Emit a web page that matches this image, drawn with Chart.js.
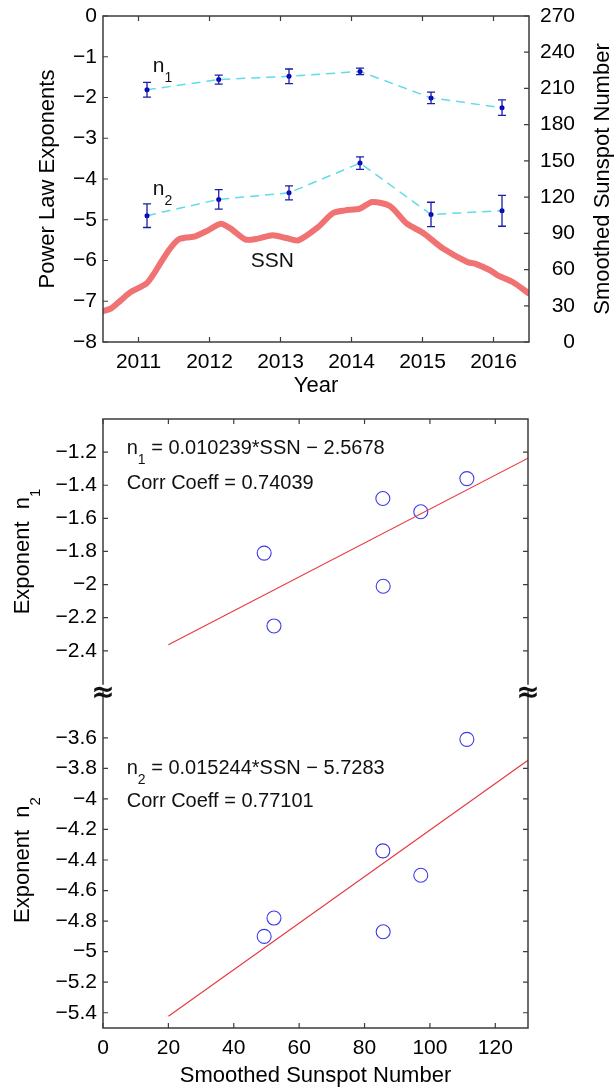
<!DOCTYPE html>
<html>
<head>
<meta charset="utf-8">
<title>Power law exponents and smoothed sunspot number</title>
<script src="https://cdn.jsdelivr.net/npm/chart.js@4.4.1/dist/chart.umd.min.js"></script>
<style>
  html, body { margin: 0; padding: 0; background: #fff; overflow: hidden; }
  canvas { position: absolute; left: 0; }
  #topChart { top: 0; }
  #n1Chart { top: 400px; }
  #n2Chart { top: 680px; }
</style>
</head>
<body>
<canvas id="topChart" width="614" height="400"></canvas>
<canvas id="n1Chart" width="614" height="292"></canvas>
<canvas id="n2Chart" width="614" height="409"></canvas>
<script>
// values
const fitYears = [2011.12, 2012.13, 2013.12, 2014.12, 2015.12, 2016.12];
const n1 = [-1.81, -1.56, -1.48, -1.36, -2.01, -2.25];
const n1Err = [0.18, 0.11, 0.18, 0.08, 0.14, 0.19];
const n2 = [-4.90, -4.50, -4.34, -3.61, -4.87, -4.78];
const n2Err = [0.29, 0.24, 0.17, 0.155, 0.30, 0.38];
const ssnAtFit = [49.3, 97.2, 85.6, 111.3, 85.7, 52.3];

// smoothed sunspot number curve
const ssnYears = [2010.50, 2010.61, 2010.75, 2010.89, 2011.11, 2011.21, 2011.32, 2011.44,
  2011.56, 2011.67, 2011.80, 2011.98, 2012.16, 2012.30, 2012.51, 2012.68, 2012.89,
  2013.08, 2013.25, 2013.53, 2013.74, 2013.91, 2014.12, 2014.29, 2014.54, 2014.78,
  2015.01, 2015.29, 2015.63, 2015.74, 2015.95, 2016.06, 2016.27, 2016.50];
const ssnValues = [25.6, 27.6, 34.5, 41.4, 48.3, 56.0, 66.3, 77.0,
  84.8, 86.5, 87.5, 92.5, 98.0, 93.9, 84.8, 85.6, 88.4,
  86.1, 84.2, 95.2, 106.8, 109.0, 110.5, 116.0, 112.6, 98.0,
  90.3, 77.4, 66.3, 64.9, 59.4, 55.2, 49.7, 40.1];

// linear fits (end points)
const fitLineX = [20, 130];
const fitLineN1 = [-2.363, -1.237];
const fitLineN2 = [-5.423, -3.747];

// tick labels
const yearTicks = [2011, 2012, 2013, 2014, 2015, 2016];
const exponentTicks = [-8, -7, -6, -5, -4, -3, -2, -1, 0];
const ssnTicks = [0, 30, 60, 90, 120, 150, 180, 210, 240, 270];
const ssnAxisTicks = [0, 20, 40, 60, 80, 100, 120];
const n1Ticks = [-2.4, -2.2, -2, -1.8, -1.6, -1.4, -1.2];
const n2Ticks = [-5.4, -5.2, -5, -4.8, -4.6, -4.4, -4.2, -4, -3.8, -3.6];

const FONT = '"Liberation Sans", Arial, sans-serif';
const AXIS = "#3c3c3c";
const TICK = 5;

const fmt = v => String(Math.round(v * 10) / 10).replace("-", "\u2212");
const setTicks = arr => scale => { scale.ticks = arr.map(v => ({ value: v })); };

function textRun(ctx, x, y, parts, size) {
    let cx = x;
    ctx.textBaseline = "alphabetic";
    ctx.textAlign = "left";
    parts.forEach(p => {
        const fs = p.sub ? Math.round(size * 0.68) : size;
        ctx.font = fs + "px " + FONT;
        ctx.fillText(p.t, cx, p.sub ? y + size * 0.48 : y);
        cx += ctx.measureText(p.t).width;
    });
}
function runWidth(ctx, parts, size) {
    let w = 0;
    parts.forEach(p => {
        ctx.font = (p.sub ? Math.round(size * 0.68) : size) + "px " + FONT;
        w += ctx.measureText(p.t).width;
    });
    return w;
}
function sideTitle(ctx, parts, size, baseX, centerY) {
    ctx.save();
    ctx.fillStyle = "#000";
    ctx.translate(baseX, centerY);
    ctx.rotate(-Math.PI / 2);
    textRun(ctx, -runWidth(ctx, parts, size) / 2, 0, parts, size);
    ctx.restore();
}

// box lines plus inward tick marks
function framePlugin(sides, tickSpecs) {
    return {
        id: "frame",
        afterDraw(chart) {
            const { ctx, chartArea: a, scales } = chart;
            ctx.save();
            ctx.strokeStyle = AXIS;
            ctx.lineWidth = 1.5;
            ctx.lineCap = "square";
            ctx.beginPath();
            if (sides.includes("left")) { ctx.moveTo(a.left, a.top); ctx.lineTo(a.left, a.bottom); }
            if (sides.includes("right")) { ctx.moveTo(a.right, a.top); ctx.lineTo(a.right, a.bottom); }
            if (sides.includes("top")) { ctx.moveTo(a.left, a.top); ctx.lineTo(a.right, a.top); }
            if (sides.includes("bottom")) { ctx.moveTo(a.left, a.bottom); ctx.lineTo(a.right, a.bottom); }
            ctx.stroke();
            ctx.lineCap = "butt";
            ctx.lineWidth = 1.2;
            ctx.beginPath();
            tickSpecs.forEach(([id, values, side]) => {
                const s = scales[id];
                values.forEach(v => {
                    const p = s.getPixelForValue(v);
                    if (side === "left") { ctx.moveTo(a.left, p); ctx.lineTo(a.left + TICK, p); }
                    if (side === "right") { ctx.moveTo(a.right, p); ctx.lineTo(a.right - TICK, p); }
                    if (side === "top") { ctx.moveTo(p, a.top); ctx.lineTo(p, a.top + TICK); }
                    if (side === "bottom") { ctx.moveTo(p, a.bottom); ctx.lineTo(p, a.bottom - TICK); }
                });
            });
            ctx.stroke();
            ctx.restore();
        }
    };
}

// text placed in data coordinates
function labelPlugin(items, size) {
    return {
        id: "labels",
        afterDatasetsDraw(chart) {
            const { ctx, scales } = chart;
            ctx.save();
            ctx.fillStyle = "#111";
            items.forEach(it => {
                const x = scales.x.getPixelForValue(it.x);
                const y = scales[it.axis || "y"].getPixelForValue(it.y);
                textRun(ctx, x, y, it.parts, size);
            });
            ctx.restore();
        }
    };
}

const errorBarPlugin = {
    id: "errorBars",
    afterDatasetsDraw(chart) {
        const { ctx, scales: { x, y } } = chart;
        ctx.save();
        ctx.strokeStyle = "#1c1ca8";
        ctx.lineWidth = 1.3;
        [[n1, n1Err], [n2, n2Err]].forEach(([vals, errs]) => {
            vals.forEach((v, i) => {
                const px = x.getPixelForValue(fitYears[i]);
                const top = y.getPixelForValue(v + errs[i]);
                const bot = y.getPixelForValue(v - errs[i]);
                ctx.beginPath();
                ctx.moveTo(px, top); ctx.lineTo(px, bot);
                ctx.moveTo(px - 4, top); ctx.lineTo(px + 4, top);
                ctx.moveTo(px - 4, bot); ctx.lineTo(px + 4, bot);
                ctx.stroke();
            });
        });
        ctx.restore();
    }
};

const tickFont = { family: FONT, size: 21 };
const titleFont = { family: FONT, size: 22 };
const noGrid = { display: false, drawTicks: false };
const noBorder = { display: false };

// ---------- top chart: exponents and SSN against time
new Chart(document.getElementById("topChart"), {
    type: "line",
    data: {
        datasets: [{
            label: "SSN",
            data: ssnYears.map((x, i) => ({ x, y: ssnValues[i] })),
            yAxisID: "y2",
            borderColor: "#f07272",
            borderWidth: 6,
            borderCapStyle: "round",
            borderJoinStyle: "round",
            pointRadius: 0,
            tension: 0.25
        }, {
            label: "n1",
            data: fitYears.map((x, i) => ({ x, y: n1[i] })),
            yAxisID: "y",
            borderColor: "#62dbe8",
            borderWidth: 1.5,
            borderDash: [9, 6],
            pointRadius: 2.5,
            pointBorderWidth: 0,
            pointBackgroundColor: "#0000c8",
            tension: 0
        }, {
            label: "n2",
            data: fitYears.map((x, i) => ({ x, y: n2[i] })),
            yAxisID: "y",
            borderColor: "#62dbe8",
            borderWidth: 1.5,
            borderDash: [9, 6],
            pointRadius: 2.5,
            pointBorderWidth: 0,
            pointBackgroundColor: "#0000c8",
            tension: 0
        }]
    },
    options: {
        responsive: false,
        animation: false,
        events: [],
        devicePixelRatio: 1,
        layout: { padding: { top: 16, right: 39, bottom: 0, left: 0 } },
        plugins: { legend: { display: false }, tooltip: { enabled: false } },
        scales: {
            x: {
                type: "linear", min: 2010.5, max: 2016.5,
                afterBuildTicks: setTicks(yearTicks),
                grid: noGrid, border: noBorder,
                ticks: { font: tickFont, color: "#000", padding: 8, autoSkip: false, maxRotation: 0, callback: v => String(v) },
                title: { display: true, text: "Year", font: titleFont, color: "#000", padding: { top: 0, bottom: 1 } },
                afterFit: s => { s.height = 58; s.paddingLeft = 0; s.paddingRight = 0; }
            },
            y: {
                position: "left", min: -8, max: 0,
                afterBuildTicks: setTicks(exponentTicks),
                grid: noGrid, border: noBorder,
                ticks: { font: tickFont, color: "#000", padding: 6, autoSkip: false, callback: fmt },
                title: { display: true, text: "Power Law Exponents", font: titleFont, color: "#000", padding: { top: 35, bottom: 0 } },
                afterFit: s => { s.width = 103; s.paddingTop = 0; s.paddingBottom = 0; }
            },
            y2: {
                position: "right", min: 0, max: 270,
                afterBuildTicks: setTicks(ssnTicks),
                grid: noGrid, border: noBorder,
                ticks: { font: tickFont, color: "#000", padding: 6, autoSkip: false, crossAlign: "far", callback: v => String(v) },
                afterFit: s => { s.width = 46; s.paddingTop = 0; s.paddingBottom = 0; }
            }
        }
    },
    plugins: [
        errorBarPlugin,
        labelPlugin([
            { x: 2011.2, y: -1.375, parts: [{ t: "n" }, { t: "1", sub: true }] },
            { x: 2011.2, y: -4.396, parts: [{ t: "n" }, { t: "2", sub: true }] },
            { x: 2012.58, y: -6.164, parts: [{ t: "SSN" }] }
        ], 21),
        framePlugin(["left", "right", "top", "bottom"], [
            ["x", yearTicks, "bottom"], ["x", yearTicks, "top"],
            ["y", exponentTicks, "left"], ["y2", ssnTicks, "right"]
        ]),
        {
            id: "rightTitle",
            afterDraw(chart) {
                const { ctx, chartArea: a } = chart;
                sideTitle(ctx, [{ t: "Smoothed Sunspot Number" }], 22, 608.7, (a.top + a.bottom) / 2);
            }
        }
    ]
});

// ---------- bottom: exponents against SSN, two panels with a broken axis
function scatterSet(vals) {
    return {
        label: "points",
        data: ssnAtFit.map((x, i) => ({ x, y: vals[i] })),
        pointRadius: 7,
        pointBorderWidth: 1.1,
        pointBorderColor: "#3c3ce6",
        pointBackgroundColor: "rgba(0,0,0,0)"
    };
}
function fitSet(vals) {
    return {
        label: "fit",
        data: fitLineX.map((x, i) => ({ x, y: vals[i] })),
        showLine: true,
        borderColor: "#e8383d",
        borderWidth: 1.1,
        pointRadius: 0
    };
}
function yPanel(min, max, ticks) {
    return {
        min, max,
        afterBuildTicks: setTicks(ticks),
        grid: noGrid, border: noBorder,
        ticks: { font: tickFont, color: "#000", padding: 6, autoSkip: false, callback: fmt },
        afterFit: s => { s.width = 103; s.paddingTop = 0; s.paddingBottom = 0; }
    };
}
const baseOptions = {
    responsive: false,
    animation: false,
    events: [],
    devicePixelRatio: 1,
    plugins: { legend: { display: false }, tooltip: { enabled: false } }
};

new Chart(document.getElementById("n1Chart"), {
    type: "scatter",
    data: { datasets: [fitSet(fitLineN1), scatterSet(n1)] },
    options: {
        ...baseOptions,
        layout: { padding: { top: 19, right: 86, bottom: 0, left: 0 } },
        scales: {
            x: { type: "linear", min: 0, max: 130, display: false },
            y: yPanel(-2.6, -1.0, n1Ticks)
        }
    },
    plugins: [
        labelPlugin([
            { x: 7.25, y: -1.211, parts: [{ t: "n" }, { t: "1", sub: true }, { t: " = 0.010239*SSN \u2212 2.5678" }] },
            { x: 7.25, y: -1.42, parts: [{ t: "Corr Coeff = 0.74039" }] }
        ], 20),
        framePlugin(["left", "right", "top"], [
            ["x", ssnAxisTicks, "top"], ["y", n1Ticks, "left"], ["y", n1Ticks, "right"]
        ]),
        {
            id: "leftTitle",
            afterDraw(chart) {
                const a = chart.chartArea;
                sideTitle(chart.ctx, [{ t: "Exponent  n" }, { t: "1", sub: true }], 22, 29, (a.top + a.bottom) / 2);
            }
        }
    ]
});

new Chart(document.getElementById("n2Chart"), {
    type: "scatter",
    data: { datasets: [fitSet(fitLineN2), scatterSet(n2)] },
    options: {
        ...baseOptions,
        layout: { padding: { top: 12, right: 86, bottom: 0, left: 0 } },
        scales: {
            x: {
                type: "linear", min: 0, max: 130,
                afterBuildTicks: setTicks(ssnAxisTicks),
                grid: noGrid, border: noBorder,
                ticks: { font: tickFont, color: "#000", padding: 8, autoSkip: false, maxRotation: 0, callback: v => String(v) },
                title: { display: true, text: "Smoothed Sunspot Number", font: titleFont, color: "#000", padding: { top: 0, bottom: 0 } },
                afterFit: s => { s.height = 61; s.paddingLeft = 0; s.paddingRight = 0; }
            },
            y: yPanel(-5.5, -3.3, n2Ticks)
        }
    },
    plugins: [
        labelPlugin([
            { x: 7.25, y: -3.838, parts: [{ t: "n" }, { t: "2", sub: true }, { t: " = 0.015244*SSN \u2212 5.7283" }] },
            { x: 7.25, y: -4.055, parts: [{ t: "Corr Coeff = 0.77101" }] }
        ], 20),
        framePlugin(["left", "right", "bottom"], [
            ["x", ssnAxisTicks, "bottom"], ["y", n2Ticks, "left"], ["y", n2Ticks, "right"]
        ]),
        {
            id: "breakMarks",
            afterDraw(chart) {
                const { ctx, chartArea: a } = chart;
                sideTitle(ctx, [{ t: "Exponent  n" }, { t: "2", sub: true }], 22, 29, (a.top + a.bottom) / 2);
                ctx.save();
                ctx.fillStyle = "#111";
                ctx.font = 'bold 28px "DejaVu Sans"';
                ctx.textAlign = "center";
                ctx.textBaseline = "middle";
                ctx.fillText("\u2248", a.left, a.top + 2);
                ctx.fillText("\u2248", a.right, a.top + 2);
                ctx.restore();
            }
        }
    ]
});
</script>
</body>
</html>
